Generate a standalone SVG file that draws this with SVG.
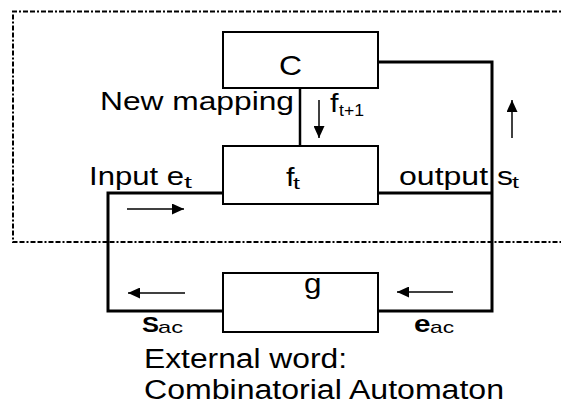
<svg xmlns="http://www.w3.org/2000/svg" width="561" height="410" viewBox="0 0 561 410">
<defs>
<style>
.box{fill:#fff;stroke:#000;stroke-width:2}
.wire{fill:none;stroke:#000;stroke-width:3}
.arr{fill:none;stroke:#000;stroke-width:1.5}
.frame{fill:none;stroke:#000;stroke-width:2;stroke-dasharray:5 2 5 2 2 2}
text{font-family:"Liberation Sans",Arial,sans-serif;fill:#000}
.t{font-size:26px}
.sub{font-size:17px}
.b{font-weight:bold}
</style>
<marker id="ah" markerUnits="userSpaceOnUse" markerWidth="12" markerHeight="11" refX="12" refY="5.5" orient="auto">
<path d="M0,0 L12,5.5 L0,11 z" fill="#000"/>
</marker>
</defs>
<rect width="561" height="410" fill="#fff"/>
<path class="frame" d="M575,11.5 H13 V242 H575"/>
<g id="connectors">
<path class="wire" d="M378,62 H492 V311 H378"/>
<path class="wire" d="M378,193 H492"/>
<path class="wire" d="M223,193 H108 V311 H223"/>
<path class="wire" style="stroke-width:2.5" d="M300,88 V146"/>
<line class="arr" x1="319" y1="100" x2="319" y2="138" marker-end="url(#ah)"/>
<line class="arr" x1="512" y1="138" x2="512" y2="100" marker-end="url(#ah)"/>
<line class="arr" x1="127" y1="209" x2="184" y2="209" marker-end="url(#ah)"/>
<line class="arr" x1="185" y1="293" x2="128" y2="293" marker-end="url(#ah)"/>
<line class="arr" x1="453" y1="292" x2="397" y2="292" marker-end="url(#ah)"/>
</g>
<g id="node-C">
<rect class="box" x="223" y="32" width="155" height="56"/>
<text class="t" x="279" y="75" style="font-size:28px" textLength="23" lengthAdjust="spacingAndGlyphs">C</text>
</g>
<g id="node-f">
<rect class="box" x="223" y="146" width="155" height="58"/>
<text class="t" x="286" y="186" textLength="8.5" lengthAdjust="spacingAndGlyphs">f</text>
<text class="sub" x="293" y="189" textLength="7" lengthAdjust="spacingAndGlyphs">t</text>
</g>
<g id="node-g">
<rect class="box" x="223" y="273" width="155" height="59"/>
<text class="t" x="304" y="293" style="font-size:27px" textLength="17.5" lengthAdjust="spacingAndGlyphs">g</text>
</g>
<g id="labels">
<text class="t" x="100" y="110" textLength="194" lengthAdjust="spacingAndGlyphs">New mapping</text>
<text class="t" x="330" y="112" textLength="8.5" lengthAdjust="spacingAndGlyphs">f</text>
<text class="sub" x="339" y="116" textLength="25" lengthAdjust="spacingAndGlyphs">t+1</text>
<text class="t" x="89" y="185" textLength="95" lengthAdjust="spacingAndGlyphs">Input e</text>
<text class="sub" x="184" y="188" textLength="8" lengthAdjust="spacingAndGlyphs">t</text>
<text class="t" x="399" y="185" textLength="114" lengthAdjust="spacingAndGlyphs">output s</text>
<text class="sub" x="512" y="188" textLength="7" lengthAdjust="spacingAndGlyphs">t</text>
<text class="t b" x="142" y="332" style="font-size:22px" textLength="17" lengthAdjust="spacingAndGlyphs">S</text>
<text class="sub" x="158" y="333" textLength="25" lengthAdjust="spacingAndGlyphs">ac</text>
<text class="t b" x="414" y="332" style="font-size:24px" textLength="16.5" lengthAdjust="spacingAndGlyphs">e</text>
<text class="sub" x="430" y="333" textLength="24" lengthAdjust="spacingAndGlyphs">ac</text>
<text class="t" x="144" y="368" style="font-size:27px" textLength="203" lengthAdjust="spacingAndGlyphs">External word:</text>
<text class="t" x="144" y="399" style="font-size:27px" textLength="360" lengthAdjust="spacingAndGlyphs">Combinatorial Automaton</text>
</g>
</svg>
